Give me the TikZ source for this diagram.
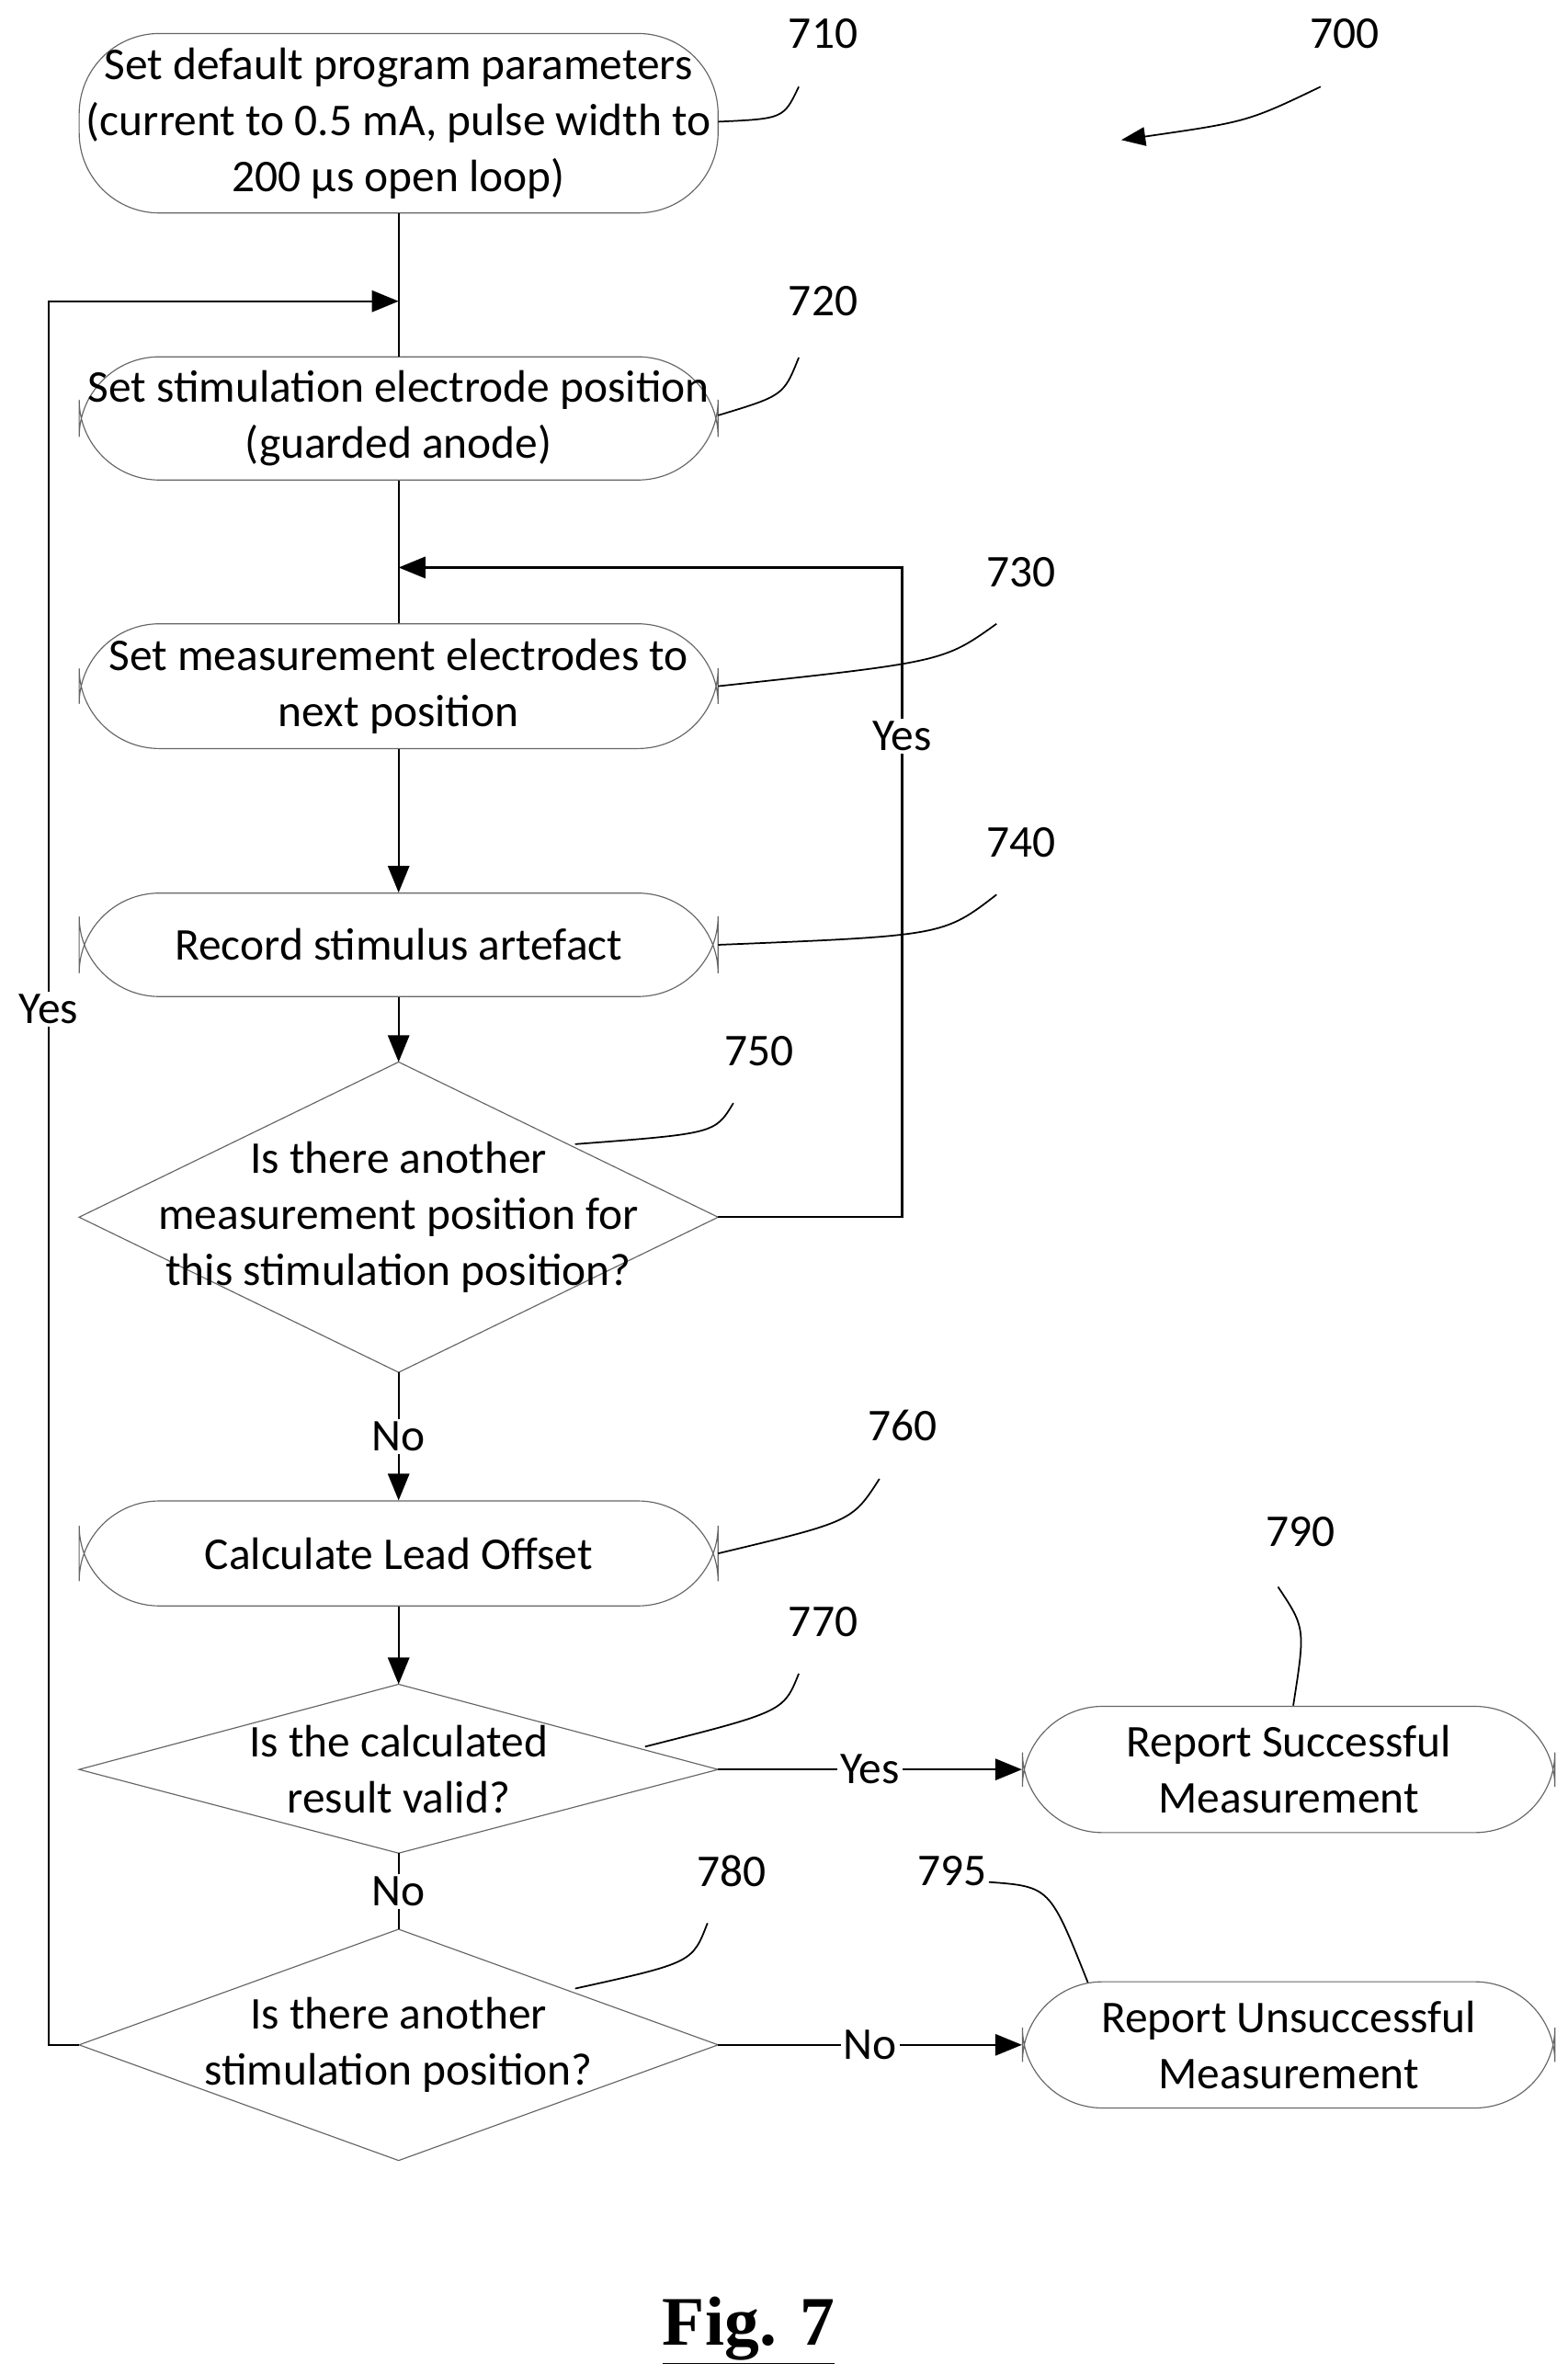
\documentclass[tikz,border=0pt]{standalone}
\usepackage{fontspec}
\setmainfont{Carlito}
\usetikzlibrary{arrows.meta,shapes.geometric}
\begin{document}
\begin{tikzpicture}[x=0.02cm,y=-0.02cm,
  every node/.style={font=\fontsize{17}{21}\selectfont},
  box/.style={draw=black!60,rounded corners=30,minimum width=8.4cm,align=center,inner sep=0},
  dia/.style={draw=black!60,diamond,aspect=2,inner sep=0},
  ln/.style={line width=0.8pt},
  ar/.style={ln,-{Triangle[length=10pt,width=8pt]}},
  lab/.style={fill=white,inner sep=1pt},
  ref/.style={line width=0.6pt}]
\useasboundingbox (0,0) rectangle (1030,1561);
\node[box,minimum height=2.36cm] (n710) at (262,81) {Set default program parameters\\(current to 0.5 mA, pulse width to\\200 µs open loop)};
\node[box,minimum height=1.62cm] (n720) at (262,275) {Set stimulation electrode position\\(guarded anode)};
\node[box,minimum height=1.64cm] (n730) at (262,451) {Set measurement electrodes to\\next position};
\node[box,minimum height=1.36cm] (n740) at (262,621) {Record stimulus artefact};
\draw[draw=black!60] (52,800) coordinate (d750w) -- (262,698) coordinate (d750n) -- (472,800) coordinate (d750e) -- (262,902) coordinate (d750s) -- cycle;
\node[align=center] (t750) at (262,800) {Is there another\\measurement position for\\this stimulation position?};
\node[box,minimum height=1.38cm] (n760) at (262,1021) {Calculate Lead Offset};
\draw[draw=black!60] (52,1163) coordinate (d770w) -- (262,1107) coordinate (d770n) -- (472,1163) coordinate (d770e) -- (262,1218) coordinate (d770s) -- cycle;
\node[align=center] (t770) at (262,1163) {Is the calculated\\result valid?};
\draw[draw=black!60] (52,1344) coordinate (d780w) -- (262,1268) coordinate (d780n) -- (472,1344) coordinate (d780e) -- (262,1420) coordinate (d780s) -- cycle;
\node[align=center] (t780) at (262,1344) {Is there another\\stimulation position?};
\node[box,minimum width=7cm,minimum height=1.66cm] (n790) at (847,1163) {Report Successful\\Measurement};
\node[box,minimum width=7cm,minimum height=1.66cm] (n795) at (847,1344) {Report Unsuccessful\\Measurement};
% connectors
\coordinate (j1) at (262,198);
\coordinate (j2) at (262,373);
\draw[ln] (n710.south) -- (n720.north);
\draw[ln] (n720.south) -- (n730.north);
\draw[ar] (n730) -- (n740);
\draw[ar] (n740) -- (d750n);
\draw[ar] (d750s) -- node[lab]{No} (n760);
\draw[ar] (n760) -- (d770n);
\draw[ln] (d770s) -- node[lab]{No} (d780n);
\draw[ar] (d770e) -- node[lab]{Yes} (n790);
\draw[ar] (d780e) -- node[lab]{No} (n795);
\draw[ar] (d750e) -- (593,800) -- node[lab,pos=0.74]{Yes} (593,373) -- (j2);
\draw[ar] (d780w) -- (32,1344) -- node[lab,pos=0.594]{Yes} (32,198) -- (j1);
% reference numerals
\node (r700) at (884,22) {700};
\node (r710) at (541,22) {710};
\node (r720) at (541,198) {720};
\node (r730) at (671,376) {730};
\node (r740) at (671,554) {740};
\node (r750) at (499,691) {750};
\node (r760) at (593,937) {760};
\node (r770) at (541,1066) {770};
\node (r780) at (481,1230) {780};
\node (r790) at (855,1007) {790};
\node (r795) at (626,1230) {795};
\draw[ref,-{Triangle[length=9pt,width=7pt]}] (868,57) .. controls (820,80) .. (737,92);
\draw[ref] (472,80) .. controls (515,78) .. (525,57);
\draw[ref] (472,273) .. controls (515,260) .. (525,235);
\draw[ref] (472,451) .. controls (620,435) .. (655,410);
\draw[ref] (472,621) .. controls (620,615) .. (655,588);
\draw[ref] (378,752) .. controls (470,745) .. (482,725);
\draw[ref] (472,1021) .. controls (560,1000) .. (578,972);
\draw[ref] (424,1148) .. controls (515,1125) .. (525,1100);
\draw[ref] (378,1307) .. controls (455,1290) .. (465,1264);
\draw[ref] (840,1043) .. controls (858,1070) .. (850,1121);
\draw[ref] (650,1237) .. controls (690,1240) .. (715,1303);
\node[font=\fontsize{26}{30}\selectfont\bfseries\fontspec{Liberation Serif}] (fig) at (492,1532) {\underline{Fig. 7}};
\end{tikzpicture}
\end{document}
